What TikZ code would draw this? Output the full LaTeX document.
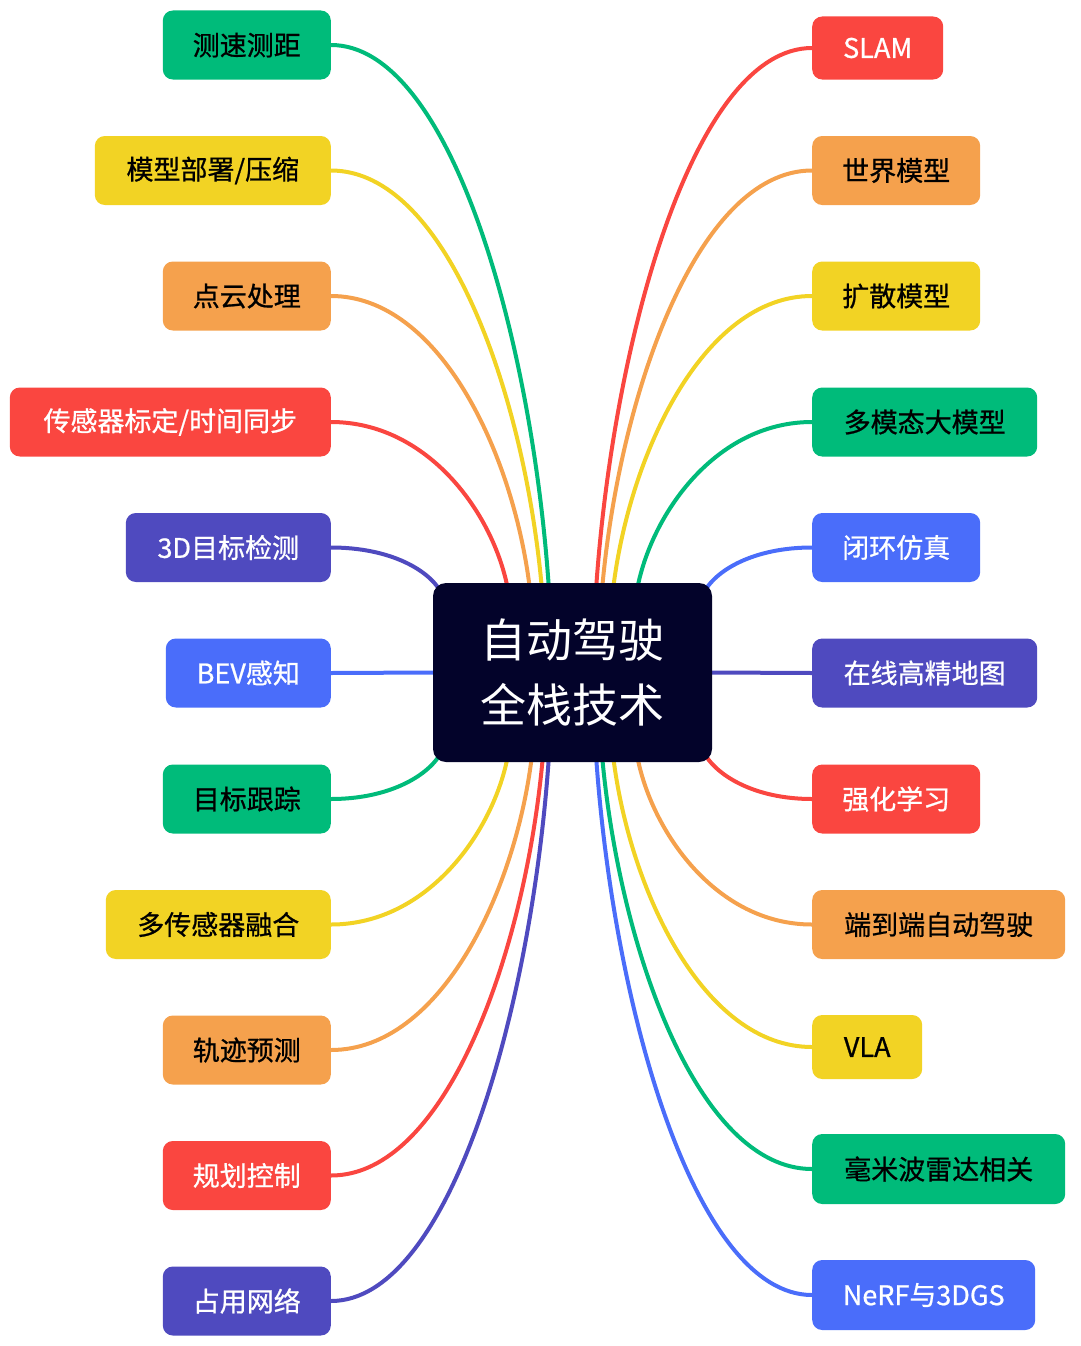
\documentclass[tikz,border=0pt]{standalone}
\usepackage{fontspec}
\setmainfont{Noto Sans CJK SC}
\newfontfamily\leaffont{Noto Sans CJK SC}[FakeBold=0.8]
\pgfdeclarelayer{background}
\pgfsetlayers{background,main}
\definecolor{mgreen}{HTML}{00BB7A}
\definecolor{myellow}{HTML}{F2D324}
\definecolor{morange}{HTML}{F5A14D}
\definecolor{mred}{HTML}{FA4640}
\definecolor{mpurple}{HTML}{4F4ABF}
\definecolor{mblue}{HTML}{4A6DFA}
\definecolor{mcenter}{HTML}{03032A}
\tikzset{
  leaf/.style={rounded corners=10pt, minimum height=69pt, inner sep=0pt,
    font=\leaffont\fontsize{27}{32}\selectfont, text=black},
  lnode/.style={leaf, anchor=east},
  rnode/.style={leaf, anchor=west},
  conn/.style={line width=4pt}
}
\begin{document}
\begin{tikzpicture}[x=1pt,y=-1pt]
\useasboundingbox (0,0) rectangle (1080,1346);
% center
\node[fill=mcenter, rounded corners=13pt, minimum width=279pt, minimum height=179pt,
  inner sep=0pt, text=white, align=center, font=\fontsize{46}{65}\selectfont] (c) at (572.5,672.5) {自动驾驶\\全栈技术};
% left nodes
\node[lnode, fill=mgreen, minimum width=168pt] (l1) at (331,45) {测速测距};
\node[lnode, fill=myellow, minimum width=236pt] (l2) at (331,170.5) {模型部署/压缩};
\node[lnode, fill=morange, minimum width=168pt] (l3) at (331,296) {点云处理};
\node[lnode, fill=mred, text=white, minimum width=321pt] (l4) at (331,422) {传感器标定/时间同步};
\node[lnode, fill=mpurple, text=white, minimum width=205pt] (l5) at (331,547.5) {3D目标检测};
\node[lnode, fill=mblue, text=white, minimum width=165pt] (l6) at (331,673) {BEV感知};
\node[lnode, fill=mgreen, minimum width=168pt] (l7) at (331,799) {目标跟踪};
\node[lnode, fill=myellow, minimum width=225pt] (l8) at (331,924.5) {多传感器融合};
\node[lnode, fill=morange, minimum width=168pt] (l9) at (331,1050) {轨迹预测};
\node[lnode, fill=mred, text=white, minimum width=168pt] (l10) at (331,1175.5) {规划控制};
\node[lnode, fill=mpurple, text=white, minimum width=168pt] (l11) at (331,1301) {占用网络};
% right nodes
\node[rnode, fill=mred, text=white, minimum width=131pt, minimum height=63pt] (r1) at (812,48) {SLAM};
\node[rnode, fill=morange, minimum width=168pt] (r2) at (812,170.5) {世界模型};
\node[rnode, fill=myellow, minimum width=168pt] (r3) at (812,296) {扩散模型};
\node[rnode, fill=mgreen, minimum width=225pt] (r4) at (812,422) {多模态大模型};
\node[rnode, fill=mblue, text=white, minimum width=168pt] (r5) at (812,547.5) {闭环仿真};
\node[rnode, fill=mpurple, text=white, minimum width=225pt] (r6) at (812,673) {在线高精地图};
\node[rnode, fill=mred, text=white, minimum width=168pt] (r7) at (812,799) {强化学习};
\node[rnode, fill=morange, minimum width=253pt] (r8) at (812,924.5) {端到端自动驾驶};
\node[rnode, fill=myellow, minimum width=110pt, minimum height=64pt] (r9) at (812,1047) {VLA};
\node[rnode, fill=mgreen, minimum width=253pt, minimum height=70pt] (r10) at (812,1169) {毫米波雷达相关};
\node[rnode, fill=mblue, text=white, minimum width=223pt, minimum height=70pt] (r11) at (812,1295) {NeRF与3DGS};
% attachment points on the center box
\coordinate (tl1) at (549,590);
\coordinate (tl2) at (542,590);
\coordinate (tl3) at (530,590);
\coordinate (tl4) at (508,590);
\coordinate (tl5) at (442,594);
\coordinate (tr1) at (596,590);
\coordinate (tr2) at (602,590);
\coordinate (tr3) at (613,590);
\coordinate (tr4) at (637,590);
\coordinate (tr5) at (703,594);
\coordinate (bl7) at (442,751);
\coordinate (bl8) at (508,755);
\coordinate (bl9) at (532,755);
\coordinate (bl10) at (543,755);
\coordinate (bl11) at (549,755);
\coordinate (br7) at (703,751);
\coordinate (br8) at (637,755);
\coordinate (br9) at (613,755);
\coordinate (br10) at (602,755);
\coordinate (br11) at (596,755);
\begin{pgfonlayer}{background}
\draw[conn, mgreen]  (l1.east) .. controls +(119,0) and +(-17,-253) .. (tl1);
\draw[conn, myellow] (l2.east) .. controls +(116,0) and +(-17,-194) .. (tl2);
\draw[conn, morange] (l3.east) .. controls +(109,0) and +(-16,-135) .. (tl3);
\draw[conn, mred]    (l4.east) .. controls +(97,0) and +(-14,-76) .. (tl4);
\draw[conn, mpurple] (l5.east) .. controls +(59,0) and +(-12,-24) .. (tl5);
\draw[conn, mblue]   (l6.east) -- (c.west);
\draw[conn, mgreen]  (l7.east) .. controls +(59,0) and +(-12,24) .. (bl7);
\draw[conn, myellow] (l8.east) .. controls +(97,0) and +(-14,76) .. (bl8);
\draw[conn, morange] (l9.east) .. controls +(110,0) and +(-16,135) .. (bl9);
\draw[conn, mred]    (l10.east) .. controls +(116,0) and +(-17,194) .. (bl10);
\draw[conn, mpurple] (l11.east) .. controls +(119,0) and +(-17,253) .. (bl11);
\draw[conn, mred]    (r1.west) .. controls +(-118,0) and +(17,-251) .. (tr1);
\draw[conn, morange] (r2.west) .. controls +(-115,0) and +(17,-194) .. (tr2);
\draw[conn, myellow] (r3.west) .. controls +(-109,0) and +(16,-135) .. (tr3);
\draw[conn, mgreen]  (r4.west) .. controls +(-96,0) and +(14,-76) .. (tr4);
\draw[conn, mblue]   (r5.west) .. controls +(-58,0) and +(12,-24) .. (tr5);
\draw[conn, mpurple] (r6.west) -- (c.east);
\draw[conn, mred]    (r7.west) .. controls +(-58,0) and +(12,24) .. (br7);
\draw[conn, morange] (r8.west) .. controls +(-96,0) and +(14,76) .. (br8);
\draw[conn, myellow] (r9.west) .. controls +(-109,0) and +(16,134) .. (br9);
\draw[conn, mgreen]  (r10.west) .. controls +(-115,0) and +(17,191) .. (br10);
\draw[conn, mblue]   (r11.west) .. controls +(-118,0) and +(17,250) .. (br11);
\end{pgfonlayer}
\end{tikzpicture}
\end{document}
